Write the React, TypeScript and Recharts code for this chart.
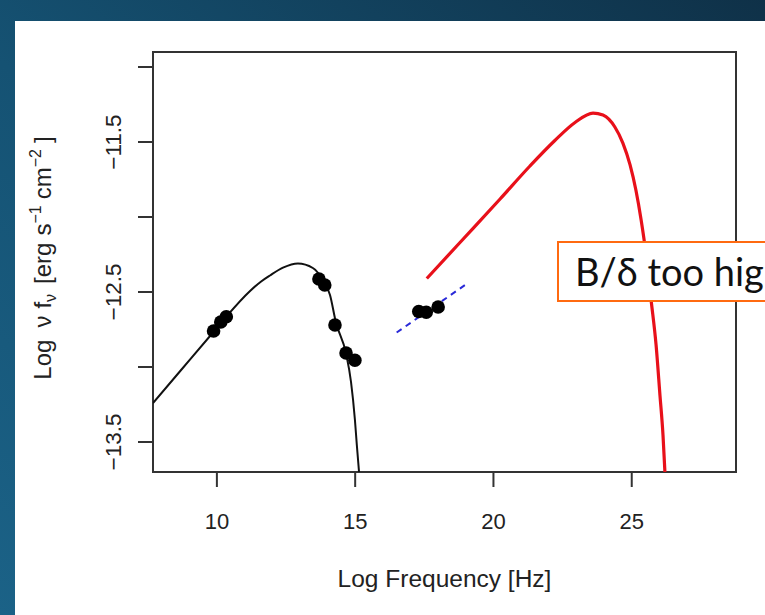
import React from "react";
import {
  ComposedChart,
  Line,
  Scatter,
  XAxis,
  YAxis,
  ReferenceArea,
} from "recharts";

// ---- data (log frequency [Hz], log nu f_nu) ----
const syncCurveX = [7.69, 8.66, 9.86, 10.36, 11.19, 11.6, 11.92, 12.39, 12.93, 13.47, 13.83, 14.09, 14.3, 14.67, 14.85, 14.99, 15.06, 15.14];
const syncCurveY = [-13.24, -13.03, -12.77, -12.66, -12.495, -12.43, -12.39, -12.338, -12.31, -12.34, -12.42, -12.52, -12.7, -12.91, -13.1, -13.35, -13.52, -13.7];

const sscCurveX = [17.59, 18.79, 20.24, 21.32, 22.22, 22.95, 23.6, 23.96, 24.39, 24.68, 24.94, 25.15, 25.34, 25.52, 25.7, 25.88, 26.02, 26.13, 26.2];
const sscCurveY = [-12.41, -12.17, -11.88, -11.66, -11.49, -11.37, -11.307, -11.32, -11.4, -11.507, -11.653, -11.82, -12.02, -12.253, -12.553, -12.853, -13.187, -13.453, -13.7];

const xrayFitX = [16.5, 19.0];
const xrayFitY = [-12.77, -12.45];

const lowPointsX = [9.88, 10.14, 10.34, 13.69, 13.9, 14.27, 14.67, 14.99];
const lowPointsY = [-12.76, -12.7, -12.665, -12.413, -12.453, -12.72, -12.907, -12.955];

const xrayPointsX = [17.3, 17.57, 18.0];
const xrayPointsY = [-12.63, -12.635, -12.6];

const xTicks = [10, 15, 20, 25];
const yTicks = [-13.5, -13, -12.5, -12, -11.5, -11];
const yLabelled = [-13.5, -12.5, -11.5];

const xDomain = [7.69, 28.77];
const yDomain = [-13.7, -10.9];

const annotationText = "B/δ too hig";

const zip = (xs: number[], ys: number[]) => xs.map((x, i) => ({ x, y: ys[i] }));

const syncData = zip(syncCurveX, syncCurveY);
const sscData = zip(sscCurveX, sscCurveY);
const fitData = zip(xrayFitX, xrayFitY);
const lowData = zip(lowPointsX, lowPointsY);
const xrayData = zip(xrayPointsX, xrayPointsY);

const FONT = "'Liberation Sans', Arial, Helvetica, sans-serif";
const TXT = "#222";

const XTick = (props: any) => {
  const { x, payload } = props;
  return (
    <text x={x} y={529} textAnchor="middle" fontFamily={FONT} fontSize={22} fill={TXT}>
      {String(payload.value)}
    </text>
  );
};

const YTick = (props: any) => {
  const { y, payload } = props;
  if (!yLabelled.includes(payload.value)) return <g />;
  const label = String(payload.value).replace("-", "\u2212");
  return (
    <text
      x={121}
      y={y}
      transform={`rotate(-90 121 ${y})`}
      textAnchor="middle"
      fontFamily={FONT}
      fontSize={22.5}
      fill={TXT}
    >
      {label}
    </text>
  );
};

const XTitle = () => (
  <text x={444.5} y={587} textAnchor="middle" fontFamily={FONT} fontSize={24.5} fill={TXT}>
    Log Frequency [Hz]
  </text>
);

const YTitle = () => (
  <text
    x={51}
    y={258}
    transform="rotate(-90 51 258)"
    textAnchor="middle"
    fontFamily={FONT}
    fontSize={24}
    fill={TXT}
  >
    <tspan>Log</tspan>
    <tspan dx={12}>ν</tspan>
    <tspan dx={7}>f</tspan>
    <tspan dy={5} fontSize={16}>ν</tspan>
    <tspan dy={-5} dx={10}>[erg</tspan>
    <tspan dx={7}>s</tspan>
    <tspan dy={-10} fontSize={16}>−1</tspan>
    <tspan dy={10} dx={6}>cm</tspan>
    <tspan dy={-10} fontSize={16}>−2</tspan>
    <tspan dy={10} dx={6}>]</tspan>
  </text>
);

const Dot = (props: any) => {
  const { cx, cy } = props;
  return <circle cx={cx} cy={cy} r={6.8} fill="#000" />;
};

export default function App() {
  return (
    <div
      style={{
        position: "absolute",
        left: 0,
        top: 0,
        width: 765,
        height: 615,
        overflow: "hidden",
        background: "linear-gradient(to top right, #1b6287 0%, #155273 45%, #0f3148 100%)",
      }}
    >
      <div
        style={{
          position: "absolute",
          left: 15,
          top: 21,
          width: 750,
          height: 594,
          background: "#ffffff",
        }}
      />
      <div style={{ position: "absolute", left: 0, top: 0 }}>
        <ComposedChart
          width={765}
          height={615}
          margin={{ top: 52, right: 29, left: 0, bottom: 0 }}
        >
          <XAxis
            dataKey="x"
            type="number"
            domain={xDomain}
            ticks={xTicks}
            allowDataOverflow
            axisLine={false}
            tickSize={15}
            tickLine={{ stroke: "#333", strokeWidth: 2 }}
            tick={<XTick />}
            height={143}
            label={<XTitle />}
          />
          <YAxis
            dataKey="y"
            type="number"
            domain={yDomain}
            ticks={yTicks}
            allowDataOverflow
            axisLine={false}
            tickSize={15}
            tickLine={{ stroke: "#333", strokeWidth: 2 }}
            tick={<YTick />}
            width={153}
            label={<YTitle />}
          />
          <ReferenceArea
            x1={xDomain[0]}
            x2={xDomain[1]}
            y1={yDomain[0]}
            y2={yDomain[1]}
            fill="none"
            fillOpacity={0}
            stroke="#333"
            strokeWidth={2}
            ifOverflow="visible"
          />
          <Line
            data={syncData}
            dataKey="y"
            type="monotone"
            stroke="#111"
            strokeWidth={2}
            dot={false}
            activeDot={false}
            isAnimationActive={false}
          />
          <Line
            data={sscData}
            dataKey="y"
            type="monotone"
            stroke="#e8101a"
            strokeWidth={3.2}
            dot={false}
            activeDot={false}
            isAnimationActive={false}
          />
          <Line
            data={fitData}
            dataKey="y"
            type="linear"
            stroke="#2a2ad8"
            strokeWidth={2}
            strokeDasharray="6 5"
            dot={false}
            activeDot={false}
            isAnimationActive={false}
          />
          <Scatter data={lowData} dataKey="y" fill="#000" shape={<Dot />} isAnimationActive={false} />
          <Scatter data={xrayData} dataKey="y" fill="#000" shape={<Dot />} isAnimationActive={false} />
        </ComposedChart>
      </div>
      <div
        style={{
          position: "absolute",
          left: 557,
          top: 241,
          width: 240,
          height: 57,
          border: "2px solid #ff6a10",
          background: "#ffffff",
          boxSizing: "content-box",
          fontFamily: "Lato, 'Open Sans', sans-serif",
          fontSize: 38,
          lineHeight: "57px",
          color: "#111",
          paddingLeft: 16,
          whiteSpace: "nowrap",
        }}
      >
        {annotationText}
      </div>
    </div>
  );
}
